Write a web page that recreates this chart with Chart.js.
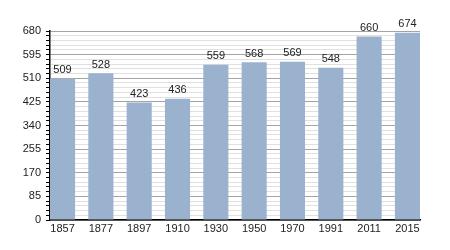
<!DOCTYPE html>
<html>
<head>
<meta charset="utf-8">
<script src="https://cdn.jsdelivr.net/npm/chart.js@4"></script>
<style>
  html, body { margin: 0; padding: 0; background: #fff; }
  #wrap { width: 450px; height: 250px; }
</style>
</head>
<body>
<div id="wrap"><canvas id="chart"></canvas></div>
<script>
// data
const years = ['1857', '1877', '1897', '1910', '1930', '1950', '1970', '1991', '2011', '2015'];
const population = [509, 528, 423, 436, 559, 568, 569, 548, 660, 674];
const yMax = 680;
const yMajorStep = 85;
const yMinorStep = 17;

// bar width as a share of the distance between bars; the outer bars touch the plot edges
const barShare = 0.655;

// draws the value above each bar
const valueLabels = {
    id: 'valueLabels',
    afterDatasetsDraw: function(chart) {
        const ctx = chart.ctx;
        const meta = chart.getDatasetMeta(0);
        ctx.save();
        ctx.font = '11px "Liberation Sans", Arial, sans-serif';
        ctx.fillStyle = '#222';
        ctx.textAlign = 'center';
        ctx.textBaseline = 'bottom';
        meta.data.forEach(function(bar, i) {
            ctx.fillText(String(population[i]), bar.x, bar.y - 3);
        });
        ctx.restore();
    }
};

new Chart(document.getElementById('chart'), {
    type: 'bar',
    data: {
        datasets: [{
            data: population.map(function(v, i) { return { x: i, y: v }; }),
            backgroundColor: '#9ab2ce',
            borderWidth: 0,
            categoryPercentage: 1,
            barPercentage: barShare
        }]
    },
    options: {
        responsive: true,
        maintainAspectRatio: false,
        animation: false,
        layout: { padding: { left: 0, right: 30, top: 31, bottom: 9 } },
        plugins: {
            legend: { display: false },
            tooltip: { enabled: false }
        },
        scales: {
            x: {
                type: 'linear',
                offset: false,
                min: -barShare / 2,
                max: years.length - 1 + barShare / 2,
                grid: { display: false, drawTicks: false },
                border: { display: true, color: '#000', width: 1.5 },
                afterBuildTicks: function(scale) {
                    scale.ticks = years.map(function(y, i) { return { value: i }; });
                },
                ticks: {
                    autoSkip: false,
                    color: '#222',
                    padding: 2,
                    maxRotation: 0,
                    font: { family: '"Liberation Sans", Arial, sans-serif', size: 11 },
                    callback: function(v) { return years[v]; }
                },
                afterFit: function(scale) { scale.height = 21; }
            },
            y: {
                min: 0,
                max: yMax,
                border: { display: true, color: '#000', width: 1.5 },
                grid: {
                    color: function(c) {
                        return c.tick && c.tick.value % yMajorStep === 0 ? '#a4a4a4' : '#e0e0e0';
                    },
                    tickColor: '#000',
                    tickLength: 4,
                    lineWidth: 1
                },
                ticks: {
                    stepSize: yMinorStep,
                    autoSkip: false,
                    color: '#222',
                    padding: 5,
                    font: { family: '"Liberation Sans", Arial, sans-serif', size: 11 },
                    callback: function(v) {
                        return v % yMajorStep === 0 ? String(v) : '';
                    }
                },
                afterFit: function(scale) { scale.width = 50; }
            }
        }
    },
    plugins: [valueLabels]
});
</script>
</body>
</html>
